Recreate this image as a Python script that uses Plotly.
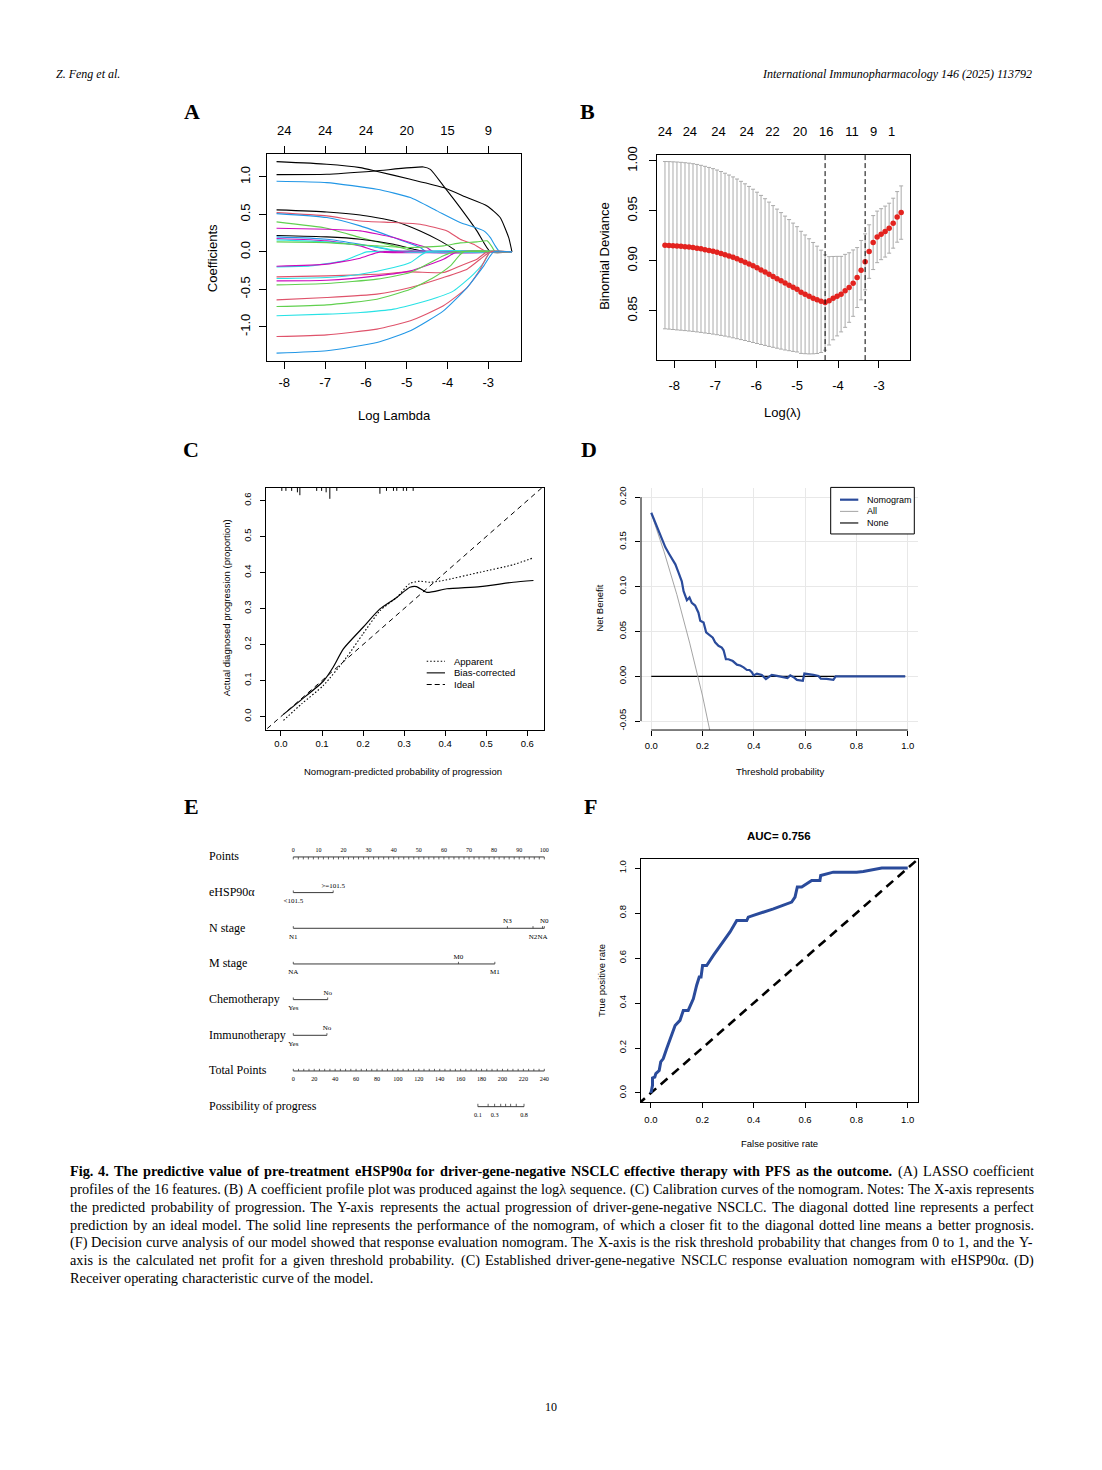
import plotly.graph_objects as go

W, H = 1102, 1470
SANS = "Liberation Sans, Arial, sans-serif"
SERIF = "Liberation Serif, Times New Roman, serif"

# ------------------------------------------------------------------ data
# Panel A : LASSO coefficient profiles
a_xticks = [-8, -7, -6, -5, -4, -3]
a_top_df = ["24", "24", "24", "20", "15", "9"]
a_yticks = [-1.0, -0.5, 0.0, 0.5, 1.0]
a_ytext = ["-1.0", "-0.5", "0.0", "0.5", "1.0"]
palette = ["#000000", "#DF536B", "#61D04F", "#2297E6", "#28E2E5", "#CD0BBC"]
path_color_idx = [0, 0, 3, 0, 1, 3, 2, 5, 0, 3, 5, 4, 2, 4, 5, 1, 4, 5, 2, 1, 2, 4, 1, 3]
path_lambda = [
    [-8.19, -6.96, -6.14, -5.77, -4.91, -4.10, -3.52, -3.03, -2.71, -2.50, -2.42],
    [-8.19, -6.96, -5.77, -4.59, -4.42, -4.10, -3.69, -3.28, -2.95, -2.42],
    [-8.19, -6.96, -5.73, -4.91, -4.26, -3.69, -3.11, -2.95, -2.83, -2.72, -2.42],
    [-8.19, -6.96, -6.14, -5.32, -4.67, -4.18, -3.85, -3.77, -2.42],
    [-8.19, -6.96, -6.14, -5.32, -4.67, -4.01, -3.69, -3.36, -3.03, -2.42],
    [-8.19, -6.96, -6.14, -5.32, -4.67, -4.51, -2.42],
    [-8.19, -6.96, -6.14, -5.32, -5.00, -4.75, -2.42],
    [-8.19, -6.96, -6.14, -5.32, -4.91, -4.51, -4.34, -2.42],
    [-8.19, -6.96, -6.14, -5.32, -4.83, -4.51, -2.42],
    [-8.19, -6.96, -6.14, -5.49, -5.16, -2.42],
    [-8.19, -6.96, -6.14, -5.65, -2.42],
    [-8.19, -6.96, -5.73, -5.32, -5.00, -2.42],
    [-8.19, -6.96, -5.73, -4.91, -4.10, -3.69, -3.28, -3.03, -2.91, -2.83, -2.42],
    [-8.19, -7.37, -6.55, -6.14, -5.98, -2.42],
    [-8.19, -6.96, -6.14, -5.65, -2.42],
    [-8.19, -6.96, -5.73, -4.91, -4.10, -3.69, -3.28, -3.03, -2.42],
    [-8.19, -6.96, -6.14, -5.32, -4.91, -4.51, -2.42],
    [-8.19, -6.96, -5.73, -4.91, -4.10, -3.77, -2.42],
    [-8.19, -6.96, -5.73, -4.91, -4.10, -3.85, -2.42],
    [-8.19, -6.96, -5.73, -4.91, -4.10, -3.52, -3.20, -2.95, -2.42],
    [-8.19, -6.96, -5.73, -4.91, -4.34, -3.93, -3.61, -2.42],
    [-8.19, -6.96, -6.14, -5.32, -4.51, -3.85, -3.36, -3.11, -2.95, -2.42],
    [-8.19, -6.96, -5.73, -4.91, -4.10, -3.52, -3.20, -2.95, -2.42],
    [-8.19, -6.96, -5.73, -4.91, -4.10, -3.52, -3.11, -2.87, -2.42],
]
path_coef = [
    [1.204, 1.170, 1.124, 1.080, 0.969, 0.858, 0.724, 0.613, 0.458, 0.190, 0.0],
    [1.031, 1.036, 1.080, 1.133, 1.100, 0.880, 0.590, 0.280, 0.0, 0.0],
    [0.942, 0.924, 0.836, 0.724, 0.547, 0.391, 0.280, 0.190, 0.080, 0.0, 0.0],
    [0.560, 0.533, 0.493, 0.413, 0.280, 0.147, 0.036, 0.0, 0.0],
    [0.524, 0.480, 0.413, 0.391, 0.369, 0.280, 0.169, 0.102, 0.0, 0.0],
    [0.511, 0.458, 0.347, 0.191, 0.058, 0.0, 0.0],
    [0.400, 0.316, 0.191, 0.080, 0.036, 0.0, 0.0],
    [0.316, 0.302, 0.280, 0.191, 0.124, 0.058, 0.0, 0.0],
    [0.218, 0.200, 0.169, 0.102, 0.036, 0.0, 0.0],
    [0.200, 0.169, 0.102, 0.036, 0.0, 0.0],
    [0.178, 0.147, 0.080, 0.0, 0.0],
    [0.160, 0.133, 0.067, 0.022, 0.0, 0.0],
    [0.133, 0.124, 0.080, 0.058, 0.080, 0.120, 0.133, 0.147, 0.067, 0.0, 0.0],
    [-0.200, -0.187, -0.120, -0.031, 0.0, 0.0],
    [-0.191, -0.164, -0.084, 0.0, 0.0],
    [-0.333, -0.320, -0.298, -0.267, -0.276, -0.187, -0.098, 0.0, 0.0],
    [-0.356, -0.342, -0.298, -0.209, -0.142, 0.0, 0.0],
    [-0.387, -0.378, -0.320, -0.253, -0.098, 0.0, 0.0],
    [-0.440, -0.422, -0.364, -0.276, -0.053, 0.0, 0.0],
    [-0.640, -0.609, -0.564, -0.476, -0.342, -0.231, -0.098, 0.0, 0.0],
    [-0.729, -0.707, -0.631, -0.498, -0.342, -0.187, 0.0, 0.0],
    [-0.853, -0.831, -0.809, -0.764, -0.653, -0.520, -0.298, -0.142, 0.0, 0.0],
    [-1.129, -1.107, -1.031, -0.920, -0.720, -0.476, -0.231, 0.0, 0.0],
    [-1.351, -1.320, -1.209, -1.053, -0.787, -0.476, -0.187, 0.0, 0.0],
]

# Panel B : cross-validated binomial deviance
b_xticks = [-8, -7, -6, -5, -4, -3]
b_yticks = [0.85, 0.90, 0.95, 1.00]
b_ytext = ["0.85", "0.90", "0.95", "1.00"]
b_top_pos = [-8.23, -7.62, -6.92, -6.23, -5.60, -4.93, -4.29, -3.66, -3.13, -2.69]
b_top_nzero = ["24", "24", "24", "24", "22", "20", "16", "11", "9", "1"]
b_log_lambda = [
    -8.228, -8.130, -8.032, -7.935, -7.837, -7.739, -7.641, -7.543, -7.446, -7.348,
    -7.250, -7.152, -7.054, -6.957, -6.859, -6.761, -6.663, -6.565, -6.468, -6.370,
    -6.272, -6.174, -6.076, -5.979, -5.881, -5.783, -5.685, -5.587, -5.490, -5.392,
    -5.294, -5.196, -5.098, -5.001, -4.903, -4.805, -4.707, -4.609, -4.512, -4.414,
    -4.316, -4.218, -4.120, -4.023, -3.925, -3.827, -3.729, -3.631, -3.534, -3.436,
    -3.338, -3.240, -3.142, -3.045, -2.947, -2.849, -2.751, -2.653, -2.556, -2.458]
b_mean_dev = [
    0.9157, 0.9155, 0.9152, 0.9149, 0.9146, 0.9142, 0.9138, 0.9133, 0.9127, 0.9120,
    0.9112, 0.9104, 0.9095, 0.9085, 0.9074, 0.9062, 0.9049, 0.9035, 0.9020, 0.9004,
    0.8987, 0.8969, 0.8950, 0.8930, 0.8909, 0.8888, 0.8866, 0.8844, 0.8822, 0.8800,
    0.8778, 0.8757, 0.8736, 0.8715, 0.8685, 0.8665, 0.8645, 0.8627, 0.8610, 0.8595,
    0.8583, 0.8600, 0.8627, 0.8647, 0.8667, 0.8700, 0.8733, 0.8777, 0.8833, 0.8907,
    0.8990, 0.9093, 0.9183, 0.9240, 0.9267, 0.9293, 0.9327, 0.9377, 0.9440, 0.9483]
b_se = [
    0.0837, 0.0838, 0.0839, 0.0840, 0.0840, 0.0840, 0.0840, 0.0839, 0.0838, 0.0836,
    0.0834, 0.0831, 0.0828, 0.0824, 0.0820, 0.0815, 0.0810, 0.0805, 0.0799, 0.0792,
    0.0784, 0.0776, 0.0767, 0.0757, 0.0746, 0.0734, 0.0722, 0.0709, 0.0696, 0.0683,
    0.0670, 0.0656, 0.0642, 0.0627, 0.0611, 0.0594, 0.0576, 0.0557, 0.0537, 0.0512,
    0.0477, 0.0442, 0.0417, 0.0398, 0.0378, 0.0365, 0.0348, 0.0332, 0.0300, 0.0297,
    0.0280, 0.0268, 0.0270, 0.0258, 0.0255, 0.0255, 0.0250, 0.0250, 0.0253, 0.0267]
lambda_min = -4.316
lambda_1se = -3.338

# Panel C : calibration
c_ticks = [0.0, 0.1, 0.2, 0.3, 0.4, 0.5, 0.6]
c_ticktext = ["0.0", "0.1", "0.2", "0.3", "0.4", "0.5", "0.6"]
cal_apparent_x = [0.006, 0.050, 0.103, 0.160, 0.200, 0.241, 0.282, 0.314, 0.338, 0.363, 0.395, 0.485, 0.566, 0.615]
cal_apparent_y = [-0.011, 0.035, 0.086, 0.165, 0.230, 0.294, 0.331, 0.370, 0.376, 0.373, 0.378, 0.401, 0.422, 0.441]
cal_bias_x = [0.006, 0.050, 0.103, 0.127, 0.152, 0.200, 0.241, 0.282, 0.314, 0.330, 0.355, 0.404, 0.485, 0.566, 0.615]
cal_bias_y = [0.006, 0.047, 0.098, 0.137, 0.188, 0.248, 0.299, 0.331, 0.359, 0.361, 0.345, 0.355, 0.361, 0.373, 0.378]
ideal_line = [-0.05, 0.70]
cal_rug_x = [0.002, 0.012, 0.026, 0.040, 0.046, 0.087, 0.099, 0.110, 0.119, 0.136,
             0.241, 0.257, 0.274, 0.282, 0.298, 0.306, 0.322]
cal_rug_len = [0.008, 0.008, 0.008, 0.012, 0.020, 0.008, 0.008, 0.012, 0.030, 0.008,
               0.016, 0.008, 0.008, 0.008, 0.008, 0.008, 0.008]
c_legend = ["Apparent", "Bias-corrected", "Ideal"]

# Panel D : decision curve
d_xticks = [0.0, 0.2, 0.4, 0.6, 0.8, 1.0]
d_xtext = ["0.0", "0.2", "0.4", "0.6", "0.8", "1.0"]
d_yticks = [-0.05, 0.0, 0.05, 0.10, 0.15, 0.20]
d_ytext = ["-0.05", "0.00", "0.05", "0.10", "0.15", "0.20"]
dca_thr = [0.000, 0.022, 0.045, 0.055, 0.071, 0.094, 0.106, 0.119, 0.126, 0.139,
           0.149, 0.158, 0.171, 0.184, 0.191, 0.204, 0.214, 0.230, 0.240, 0.249,
           0.262, 0.275, 0.282, 0.291, 0.301, 0.318, 0.334, 0.347, 0.360, 0.373,
           0.383, 0.392, 0.399, 0.412, 0.431, 0.447, 0.457, 0.470, 0.490, 0.509,
           0.531, 0.542, 0.555, 0.568, 0.591, 0.597, 0.613, 0.632, 0.652, 0.661,
           0.684, 0.710, 0.719, 0.990]
dca_nomogram = [0.1826, 0.168, 0.151, 0.144, 0.136, 0.125, 0.116, 0.106, 0.095, 0.085,
                0.088, 0.082, 0.079, 0.071, 0.062, 0.060, 0.049, 0.045, 0.043, 0.038,
                0.034, 0.032, 0.029, 0.019, 0.019, 0.017, 0.013, 0.012, 0.010, 0.007,
                0.007, 0.0045, 0.001, 0.003, 0.0015, -0.003, -0.001, 0.0015, 0.0005, -0.001,
                -0.002, 0.001, -0.001, -0.004, -0.005, 0.003, 0.0026, 0.0015, 0.0004, -0.0026,
                -0.003, -0.004, 0.0, 0.0]
dca_all_x = [0.0, 0.05, 0.10, 0.15, 0.20, 0.25]
dca_all_y = [0.182, 0.139, 0.091, 0.037, -0.022, -0.090]
dca_none_x = [0.0, 0.99]
dca_none_y = [0.0, 0.0]
d_legend = ["Nomogram", "All", "None"]

# Panel E : nomogram
nomo_rows = ["Points", "eHSP90α", "N stage", "M stage", "Chemotherapy",
             "Immunotherapy", "Total Points", "Possibility of progress"]
points_ticks = [0, 10, 20, 30, 40, 50, 60, 70, 80, 90, 100]
total_ticks = [0, 20, 40, 60, 80, 100, 120, 140, 160, 180, 200, 220, 240]
ehsp_levels = ["<101.5", ">=101.5"]
ehsp_points = [0.0, 15.9]
ehsp_side = ["below", "above"]
n_levels = ["N1", "N3", "N2", "NA", "N0"]
n_points = [0.0, 85.3, 95.5, 99.3, 100.0]
n_side = ["below", "above", "below", "below", "above"]
m_levels = ["NA", "M0", "M1"]
m_points = [0.0, 65.8, 80.3]
m_side = ["below", "above", "below"]
chemo_levels = ["Yes", "No"]
chemo_points = [0.0, 13.7]
chemo_side = ["below", "above"]
immuno_levels = ["Yes", "No"]
immuno_points = [0.0, 13.4]
immuno_side = ["below", "above"]
prob_values = [0.1, 0.2, 0.3, 0.4, 0.5, 0.6, 0.7, 0.8]
prob_total_points = [176.5, 186.3, 192.5, 198.3, 203.0, 207.8, 213.2, 220.6]
prob_labelled = ["0.1", "", "0.3", "", "", "", "", "0.8"]

# Panel F : ROC
f_ticks = [0.0, 0.2, 0.4, 0.6, 0.8, 1.0]
f_ticktext = ["0.0", "0.2", "0.4", "0.6", "0.8", "1.0"]
roc_fpr = [0.0, 0.006, 0.006, 0.015, 0.019, 0.032, 0.038, 0.048, 0.061, 0.094,
           0.113, 0.126, 0.145, 0.165, 0.178, 0.188, 0.195, 0.201, 0.217, 0.243,
           0.308, 0.334, 0.373, 0.379, 0.399, 0.477, 0.548, 0.561, 0.570, 0.587,
           0.626, 0.658, 0.661, 0.710, 0.801, 0.827, 0.899, 1.0]
roc_tpr = [0.0, 0.034, 0.067, 0.071, 0.086, 0.100, 0.138, 0.153, 0.197, 0.300,
           0.323, 0.367, 0.367, 0.419, 0.479, 0.516, 0.516, 0.567, 0.567, 0.612,
           0.716, 0.767, 0.767, 0.782, 0.790, 0.819, 0.849, 0.871, 0.916, 0.916,
           0.945, 0.945, 0.967, 0.982, 0.982, 0.985, 1.0, 1.0]
chance_line = [-0.05, 1.05]
auc_text = "AUC= 0.756"

# Caption text
caption_lines = [
    [("Fig. 4. The predictive value of pre-treatment eHSP90α for driver-gene-negative NSCLC effective therapy with PFS as the outcome.", True),
     ("(A) LASSO coefficient", False)],
    [("profiles of the 16 features. (B) A coefficient profile plot was produced against the logλ sequence. (C) Calibration curves of the nomogram. Notes: The X-axis represents", False)],
    [("the predicted probability of progression. The Y-axis represents the actual progression of driver-gene-negative NSCLC. The diagonal dotted line represents a perfect", False)],
    [("prediction by an ideal model. The solid line represents the performance of the nomogram, of which a closer fit to the diagonal dotted line means a better prognosis.", False)],
    [("(F) Decision curve analysis of our model showed that response evaluation nomogram. The X-axis is the risk threshold probability that changes from 0 to 1, and the Y-", False)],
    [("axis is the calculated net profit for a given threshold probability. (C) Established driver-gene-negative NSCLC response evaluation nomogram with eHSP90α. (D)", False)],
    [("Receiver operating characteristic curve of the model.", False)],
]

# ------------------------------------------------------------------ geometry helpers
# the photographed page is a little taller than the figure; map target pixel rows
# onto the figure so that everything lands where intended
Y_OFF, Y_SC = 7.96, 1470.0 / 1478.0


def fy(t):
    return (t - Y_OFF) / Y_SC


def xd(l, r):
    return [l / W, r / W]


def yd(t, b):
    return [1 - fy(b) / H, 1 - fy(t) / H]


def px(x):
    return x / W


def py(y):
    return 1 - fy(y) / H


A_BOX = (267.3, 153.5, 520.5, 360.0)
A_XR, A_YR = [-8.417, -2.211], [-1.453, 1.30]
B_BOX = (656.7, 154.0, 910.0, 359.3)
B_XR, B_YR = [-8.430, -2.242], [0.8007, 1.006]
C_BOX = (266.0, 487.3, 544.0, 729.3)
C_XR, C_YR = [-0.0365, 0.6407], [-0.037, 0.635]
D_BOX = (641.0, 487.5, 918.0, 729.5)
D_XR, D_YR = [-0.04, 1.04], [-0.06, 0.21]
F_BOX = (640.7, 858.7, 918.0, 1101.7)
F_XR, F_YR = [-0.04, 1.04], [-0.04, 1.04]
E_BOX = (180.0, 795.0, 560.0, 1125.0)
E_XR = [(180.0 - 293.3) / 2.51, (560.0 - 293.3) / 2.51]
E_YR = [(1125.0 - 856.5) / 35.7, (795.0 - 856.5) / 35.7]


def style(size, ticklen, standoff, box=True, angle=0):
    return dict(showline=box, mirror=box, linecolor="black", linewidth=1,
                ticks="outside", ticklen=ticklen, tickwidth=1, tickcolor="black",
                tickfont=dict(family=SANS, size=size, color="black"),
                showgrid=False, zeroline=False, ticklabelstandoff=standoff,
                tickangle=angle, fixedrange=True)


fig = go.Figure()


def add_line(x, y, xa, ya, color, width, dash=None, shape="linear", smoothing=None):
    ln = dict(color=color, width=width, shape=shape)
    if dash:
        ln["dash"] = dash
    if smoothing is not None:
        ln["smoothing"] = smoothing
    fig.add_trace(go.Scatter(x=x, y=y, mode="lines", line=ln, xaxis=xa, yaxis=ya,
                             hoverinfo="skip", showlegend=False))


# ---------------- Panel A
for xs, ys, ci in zip(path_lambda, path_coef, path_color_idx):
    add_line(xs, ys, "x", "y", palette[ci], 1.1, shape="spline", smoothing=0.5)
fig.add_trace(go.Scatter(x=[], y=[], xaxis="x7", yaxis="y", showlegend=False))

# ---------------- Panel B
fig.add_trace(go.Scatter(
    x=b_log_lambda, y=b_mean_dev, mode="markers",
    marker=dict(color="#E3231F", size=5.5, line=dict(width=0)),
    error_y=dict(type="data", array=b_se, color="#ABABAB", thickness=1, width=2),
    xaxis="x2", yaxis="y2", hoverinfo="skip", showlegend=False))
fig.add_trace(go.Scatter(x=[], y=[], xaxis="x8", yaxis="y2", showlegend=False))

# ---------------- Panel C
add_line(ideal_line, ideal_line, "x3", "y3", "black", 1, dash="5px,4px")
add_line(cal_apparent_x, cal_apparent_y, "x3", "y3", "black", 1.1, dash="1.5px,2px", shape="spline", smoothing=0.6)
add_line(cal_bias_x, cal_bias_y, "x3", "y3", "black", 1.2, shape="spline", smoothing=0.6)
rx, ry = [], []
for v, ln in zip(cal_rug_x, cal_rug_len):
    rx += [v, v, None]
    ry += [C_YR[1], C_YR[1] - ln, None]
add_line(rx, ry, "x3", "y3", "black", 1)

# ---------------- Panel D
add_line(dca_none_x, dca_none_y, "x4", "y4", "black", 1.2)
add_line(dca_all_x, dca_all_y, "x4", "y4", "#9A9A9A", 0.9)
add_line(dca_thr, dca_nomogram, "x4", "y4", "#2A4B9B", 2.2)

# ---------------- Panel F
add_line(chance_line, chance_line, "x5", "y5", "black", 2.6, dash="9px,6px")
add_line(roc_fpr, roc_tpr, "x5", "y5", "#2A4B9B", 3)

# ---------------- Panel E (nomogram)
NOMO_C = "#3a3a3a"
to_pts = 100.0 / 240.0


def nomo_text(xs, ys, texts, size):
    fig.add_trace(go.Scatter(x=xs, y=ys, mode="text", text=texts,
                             textposition="middle center",
                             textfont=dict(family=SERIF, size=size, color="black"),
                             xaxis="x6", yaxis="y6", hoverinfo="skip",
                             showlegend=False, cliponaxis=False))


def tick_segs(xs, row, length):
    sx, sy = [], []
    for v in xs:
        sx += [v, v, None]
        sy += [row, row + length, None]
    return sx, sy


# Points scale (row 0)
add_line([points_ticks[0], points_ticks[-1]], [0, 0], "x6", "y6", NOMO_C, 1)
sx, sy = tick_segs(list(range(points_ticks[0], points_ticks[-1] + 1, 2)), 0, 0.07)
add_line(sx, sy, "x6", "y6", NOMO_C, 0.8)
nomo_text(points_ticks, [-0.17] * len(points_ticks), [str(v) for v in points_ticks], 6)

# categorical predictors
cat_rows = [(1, ehsp_levels, ehsp_points, ehsp_side),
            (2, n_levels, n_points, n_side),
            (3, m_levels, m_points, m_side),
            (4, chemo_levels, chemo_points, chemo_side),
            (5, immuno_levels, immuno_points, immuno_side)]
for row, labs, pts, sides in cat_rows:
    add_line([min(pts), max(pts)], [row, row], "x6", "y6", NOMO_C, 1)
    sx, sy = tick_segs(pts, row, -0.06)
    add_line(sx, sy, "x6", "y6", NOMO_C, 0.8)
    nomo_text(pts, [row - 0.19 if s == "above" else row + 0.24 for s in sides], labs, 7)

# Total points (row 6)
tp = [t * to_pts for t in total_ticks]
add_line([tp[0], tp[-1]], [6, 6], "x6", "y6", NOMO_C, 1)
sx, sy = tick_segs([t * to_pts for t in range(total_ticks[0], total_ticks[-1] + 1, 5)], 6, -0.06)
add_line(sx, sy, "x6", "y6", NOMO_C, 0.8)
nomo_text(tp, [6.25] * len(tp), [str(v) for v in total_ticks], 6.2)

# Probability (row 7)
pp = [t * to_pts for t in prob_total_points]
add_line([pp[0], pp[-1]], [7, 7], "x6", "y6", NOMO_C, 1)
sx, sy = tick_segs(pp, 7, -0.08)
add_line(sx, sy, "x6", "y6", NOMO_C, 0.8)
nomo_text(pp, [7.24] * len(pp), prob_labelled, 6.2)

# ------------------------------------------------------------------ annotations
anns = []


def ann(text, x, y, size, family=SANS, xanchor="center", yanchor="middle", angle=0,
        xref="paper", yref="paper"):
    anns.append(dict(text=text, x=x, y=y, xref=xref, yref=yref, showarrow=False,
                     font=dict(family=family, size=size, color="black"),
                     xanchor=xanchor, yanchor=yanchor, textangle=angle, borderpad=0))


# panel letters
for letter, cx, cy in [("A", 191.5, 111), ("B", 587, 111), ("C", 190.5, 449),
                       ("D", 589, 449), ("E", 191.5, 806), ("F", 590, 806)]:
    ann("<b>%s</b>" % letter, px(cx), py(cy), 22, family=SERIF)

# axis titles
ann("Coefficients", px(213.3), py(257), 13, angle=-90)
ann("Log Lambda", px(394), py(415), 13)
ann("Binomial Deviance", px(605), py(255), 13, angle=-90)
ann("Log(λ)", px(782.7), py(412), 13)
ann("Actual diagnosed progression (proportion)", px(226.7), py(607), 9.5, angle=-90)
ann("Nomogram-predicted probability of progression", px(403), py(771.5), 9.5)
ann("Net Benefit", px(600), py(608), 9.5, angle=-90)
ann("Threshold probability", px(780), py(771), 9.5)
ann("True positive rate", px(601.7), py(980), 9.5, angle=-90)
ann("False positive rate", px(779.3), py(1143.3), 9.5)
ann("<b>%s</b>" % auc_text, px(779.3), py(836), 11.5)

# legend C
shapes = []
c_rows = [660.7, 672.3, 684.0]
c_dash = ["1.5px,2px", "solid", "5px,3px"]
for lab, yy, ds in zip(c_legend, c_rows, c_dash):
    shapes.append(dict(type="line", xref="paper", yref="paper", x0=px(426.7), x1=px(445),
                       y0=py(yy), y1=py(yy), line=dict(color="black", width=1.1, dash=ds)))
    ann(lab, px(453.3), py(yy), 9.5, xanchor="left")

# legend D
shapes.append(dict(type="rect", xref="paper", yref="paper", x0=px(830.7), x1=px(914.3),
                   y0=py(533.3), y1=py(486.7), line=dict(color="black", width=1),
                   fillcolor="white"))
d_rows = [499.0, 510.7, 522.3]
d_cols = [("#2A4B9B", 2.2), ("#9A9A9A", 0.9), ("#222222", 1.3)]
for lab, yy, (col, wd) in zip(d_legend, d_rows, d_cols):
    shapes.append(dict(type="line", xref="paper", yref="paper", x0=px(840), x1=px(858.3),
                       y0=py(yy), y1=py(yy), line=dict(color=col, width=wd)))
    ann(lab, px(865.5), py(yy), 9, xanchor="left")

# D detached axis lines (R style)
shapes.append(dict(type="line", xref="x4", yref="y4 domain", x0=d_xticks[0], x1=d_xticks[-1],
                   y0=0, y1=0, line=dict(color="black", width=1)))
shapes.append(dict(type="line", xref="x4 domain", yref="y4", x0=0, x1=0,
                   y0=d_yticks[0], y1=d_yticks[-1], line=dict(color="black", width=1)))

# B reference lines
for v in (lambda_min, lambda_1se):
    shapes.append(dict(type="line", xref="x2", yref="y2 domain", x0=v, x1=v, y0=0, y1=1,
                       line=dict(color="black", width=1, dash="5px,3px")))

# nomogram row labels
for i, lab in enumerate(nomo_rows):
    ann(lab, px(208), i - 0.02, 12, family=SERIF, xanchor="left", yref="y6")

# header / footer
ann("<i>Z. Feng et al.</i>", px(55), py(73), 12, family=SERIF, xanchor="left")
ann("<i>International Immunopharmacology 146 (2025) 113792</i>", px(1033), py(73), 12,
    family=SERIF, xanchor="right")
ann("10", px(551), py(1407), 12, family=SERIF)

# caption (justified, word by word)
TR = dict(zip("abcdefghijklmnopqrstuvwxyz",
              [444, 500, 444, 500, 444, 333, 500, 500, 278, 278, 500, 278, 778, 500, 500, 500, 500, 333, 389, 278, 500, 500, 722, 500, 500, 444]))
TR.update(zip("ABCDEFGHIJKLMNOPQRSTUVWXYZ",
              [722, 667, 667, 722, 611, 556, 722, 722, 333, 389, 722, 611, 889, 722, 722, 556, 722, 667, 556, 611, 722, 722, 944, 722, 722, 611]))
TR.update({".": 250, ",": 250, "(": 333, ")": 333, "-": 333, ":": 278, "λ": 500, "α": 540})
TB = dict(zip("abcdefghijklmnopqrstuvwxyz",
              [500, 556, 444, 556, 444, 333, 500, 556, 278, 333, 556, 278, 833, 556, 500, 556, 556, 444, 389, 333, 556, 500, 722, 500, 500, 444]))
TB.update(zip("ABCDEFGHIJKLMNOPQRSTUVWXYZ",
              [722, 667, 722, 722, 667, 611, 778, 778, 389, 500, 778, 667, 944, 722, 778, 611, 778, 722, 556, 667, 722, 722, 1000, 722, 722, 667]))
TB.update({".": 250, ",": 250, "(": 333, ")": 333, "-": 333, ":": 333, "α": 560})


def word_em(w, bold):
    tb = TB if bold else TR
    return sum(tb.get(ch, 500) for ch in w) / 1000.0


cap_left, cap_right = 69.0, 1033.0
cap_y = [1171, 1189, 1207, 1224.5, 1242, 1260, 1278]
line_words = []
for segs in caption_lines:
    words = []
    for txt, bold in segs:
        for w in txt.split(" "):
            words.append((w, bold))
    line_words.append(words)
fs = 14.3
for words in line_words[:-1]:
    em = sum(word_em(w, b) for w, b in words) + 0.2 * (len(words) - 1)
    if em * fs > cap_right - cap_left:
        fs = (cap_right - cap_left) / em
for li, words in enumerate(line_words):
    widths = [word_em(w, b) * fs for w, b in words]
    if li < len(line_words) - 1:
        gap = (cap_right - cap_left - sum(widths)) / (len(words) - 1)
    else:
        gap = 0.25 * fs
    xpos = cap_left
    for (w, b), wd in zip(words, widths):
        ann("<b>%s</b>" % w if b else w, px(xpos), py(cap_y[li]), fs, family=SERIF,
            xanchor="left")
        xpos += wd + gap

# ------------------------------------------------------------------ layout
layout = dict(
    width=W, height=H, autosize=False, margin=dict(l=0, r=0, t=0, b=0),
    paper_bgcolor="white", plot_bgcolor="rgba(0,0,0,0)", showlegend=False,
    font=dict(family=SANS, color="black"),
    xaxis=dict(domain=xd(A_BOX[0], A_BOX[2]), range=A_XR, anchor="y", tickvals=a_xticks,
               ticktext=[str(v) for v in a_xticks], **style(13, 7, 3)),
    yaxis=dict(domain=yd(A_BOX[1], A_BOX[3]), range=A_YR, anchor="x", tickvals=a_yticks,
               ticktext=a_ytext, **style(13, 7, 4, angle=-90)),
    xaxis7=dict(overlaying="x", side="top", anchor="y", range=A_XR, tickvals=a_xticks,
                ticktext=a_top_df, **style(13, 7, 6, box=False)),
    xaxis2=dict(domain=xd(B_BOX[0], B_BOX[2]), range=B_XR, anchor="y2", tickvals=b_xticks,
                ticktext=[str(v) for v in b_xticks], **style(13, 7, 6)),
    yaxis2=dict(domain=yd(B_BOX[1], B_BOX[3]), range=B_YR, anchor="x2", tickvals=b_yticks,
                ticktext=b_ytext, **style(13, 7, 7, angle=-90)),
    xaxis8=dict(overlaying="x2", side="top", anchor="y2", range=B_XR, tickvals=b_top_pos,
                ticktext=b_top_nzero, **dict(style(13, 0, 15, box=False), ticks="")),
    xaxis3=dict(domain=xd(C_BOX[0], C_BOX[2]), range=C_XR, anchor="y3", tickvals=c_ticks,
                ticktext=c_ticktext, **style(9.5, 5, 0)),
    yaxis3=dict(domain=yd(C_BOX[1], C_BOX[3]), range=C_YR, anchor="x3", tickvals=c_ticks,
                ticktext=c_ticktext, **style(9.5, 5, 5, angle=-90)),
    xaxis4=dict(domain=xd(D_BOX[0], D_BOX[2]), range=D_XR, anchor="y4", tickvals=d_xticks,
                ticktext=d_xtext, **dict(style(9.5, 5, 2, box=False), showgrid=True,
                                         gridcolor="#E8E8E8", gridwidth=1)),
    yaxis4=dict(domain=yd(D_BOX[1], D_BOX[3]), range=D_YR, anchor="x4", tickvals=d_yticks,
                ticktext=d_ytext, **dict(style(9.5, 5, 5, box=False, angle=-90), showgrid=True,
                                         gridcolor="#E8E8E8", gridwidth=1)),
    xaxis5=dict(domain=xd(F_BOX[0], F_BOX[2]), range=F_XR, anchor="y5", tickvals=f_ticks,
                ticktext=f_ticktext, **style(9.5, 5, 4)),
    yaxis5=dict(domain=yd(F_BOX[1], F_BOX[3]), range=F_YR, anchor="x5", tickvals=f_ticks,
                ticktext=f_ticktext, **style(9.5, 5, 5, angle=-90)),
    xaxis6=dict(domain=xd(E_BOX[0], E_BOX[2]), range=E_XR, anchor="y6", visible=False,
                fixedrange=True),
    yaxis6=dict(domain=yd(E_BOX[1], E_BOX[3]), range=E_YR, anchor="x6", visible=False,
                fixedrange=True),
    annotations=anns,
    shapes=shapes,
)
fig.update_layout(**layout)

page_css = ("var s=document.createElement('style');"
            "s.innerHTML='html,body{margin:0 !important;padding:0 !important;"
            "overflow:hidden !important;}';"
            "document.head.appendChild(s);window.scrollTo(0,0);")
fig.write_html("out.html", config={"displayModeBar": False, "responsive": False},
               post_script=page_css)
